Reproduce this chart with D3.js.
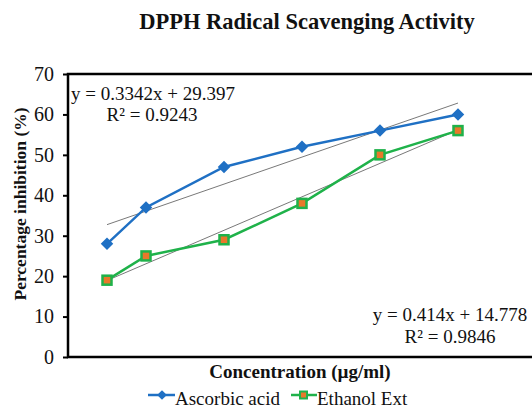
<!DOCTYPE html>
<html>
<head>
<meta charset="utf-8">
<script src="https://cdn.jsdelivr.net/npm/d3@7"></script>
<style>
  body { margin: 0; background: #fff; }
  svg text { font-family: "Liberation Serif", "Times New Roman", serif; fill: #111; }
</style>
</head>
<body>
<div id="chart"></div>
<script>
// data
var concentrations = [10, 20, 40, 60, 80, 100];
var ascorbicAcid = [28, 37, 47, 52, 56, 60];
var ethanolExt = [19, 25, 29, 38, 50, 56];
var yTicks = [0, 10, 20, 30, 40, 50, 60, 70];
var trendAscorbic = {slope: 0.3342, intercept: 29.397, eq: "y = 0.3342x + 29.397", r2: "R\u00B2 = 0.9243"};
var trendEthanol = {slope: 0.414, intercept: 14.778, eq: "y = 0.414x + 14.778", r2: "R\u00B2 = 0.9846"};

var width = 532, height = 412;
var margin = {top: 74, right: -4, bottom: 55, left: 68};

var svg = d3.select("#chart").append("svg")
    .attr("width", width)
    .attr("height", height);

var x = d3.scaleLinear()
    .domain([0, 120])
    .range([margin.left, width - margin.right]);

var y = d3.scaleLinear()
    .domain([0, 70])
    .range([height - margin.bottom, margin.top]);

// title
svg.append("text")
    .attr("x", 307)
    .attr("y", 29)
    .attr("text-anchor", "middle")
    .attr("font-size", 22.5)
    .attr("font-weight", "bold")
    .text("DPPH Radical Scavenging Activity");

// y axis
var yAxis = d3.axisLeft(y)
    .tickValues(yTicks)
    .tickSize(5)
    .tickPadding(9);

var gy = svg.append("g")
    .attr("transform", "translate(" + margin.left + ",0)")
    .call(yAxis);
gy.select(".domain").remove();
gy.selectAll(".tick line").attr("stroke", "#000").attr("stroke-width", 2);
gy.selectAll(".tick text")
    .attr("font-size", 20)
    .attr("font-family", "Liberation Serif, serif")
    .attr("fill", "#222");

// frame: top, left, bottom
svg.append("path")
    .attr("d", "M" + (width + 5) + "," + y(70) + "H" + margin.left + "V" + y(0) + "H" + (width + 5))
    .attr("fill", "none")
    .attr("stroke", "#000")
    .attr("stroke-width", 2.5);

// axis titles
svg.append("text")
    .attr("transform", "translate(26,204) rotate(-90)")
    .attr("text-anchor", "middle")
    .attr("font-size", 17.5)
    .attr("font-weight", "bold")
    .text("Percentage inhibition (%)");

svg.append("text")
    .attr("x", 300)
    .attr("y", 378)
    .attr("text-anchor", "middle")
    .attr("font-size", 19)
    .attr("font-weight", "bold")
    .text("Concentration (\u00B5g/ml)");

// trendlines
function trendline(t) {
    var x0 = d3.min(concentrations), x1 = d3.max(concentrations);
    svg.append("line")
        .attr("x1", x(x0)).attr("y1", y(t.slope * x0 + t.intercept))
        .attr("x2", x(x1)).attr("y2", y(t.slope * x1 + t.intercept))
        .attr("stroke", "#555")
        .attr("stroke-width", 0.8);
}
trendline(trendAscorbic);
trendline(trendEthanol);

var line = d3.line()
    .x(function(d, i) { return x(concentrations[i]); })
    .y(function(d) { return y(d); });

var blue = "#1f70c4", green = "#1fb24a", orange = "#e8782a";

// series lines
svg.append("path")
    .datum(ascorbicAcid)
    .attr("d", line)
    .attr("fill", "none")
    .attr("stroke", blue)
    .attr("stroke-width", 2.5);

svg.append("path")
    .datum(ethanolExt)
    .attr("d", line)
    .attr("fill", "none")
    .attr("stroke", green)
    .attr("stroke-width", 2.5);

// markers
var diamond = d3.symbol().type(d3.symbolDiamond2).size(100);
svg.selectAll(".asc")
    .data(ascorbicAcid)
    .enter().append("path")
    .attr("class", "asc")
    .attr("d", diamond)
    .attr("transform", function(d, i) { return "translate(" + x(concentrations[i]) + "," + y(d) + ")"; })
    .attr("fill", blue);

svg.selectAll(".eth")
    .data(ethanolExt)
    .enter().append("rect")
    .attr("class", "eth")
    .attr("x", function(d, i) { return x(concentrations[i]) - 4.5; })
    .attr("y", function(d) { return y(d) - 4.5; })
    .attr("width", 9)
    .attr("height", 9)
    .attr("fill", orange)
    .attr("stroke", green)
    .attr("stroke-width", 2.5);

// equations
function eqText(t, cx, yy) {
    svg.append("text")
        .attr("x", cx).attr("y", yy)
        .attr("text-anchor", "middle")
        .attr("font-size", 19)
        .text(t);
}
eqText(trendAscorbic.eq, 153, 100);
eqText(trendAscorbic.r2, 152, 121);
eqText(trendEthanol.eq, 450, 321);
eqText(trendEthanol.r2, 450, 343);

// legend
var legend = svg.append("g").attr("transform", "translate(0,405)");
legend.append("line").attr("x1", 148).attr("x2", 175).attr("y1", -10).attr("y2", -10)
    .attr("stroke", blue).attr("stroke-width", 2.5);
legend.append("path").attr("d", d3.symbol().type(d3.symbolDiamond2).size(60))
    .attr("transform", "translate(162,-10)").attr("fill", blue);
legend.append("text").attr("x", 175).attr("y", 0).attr("font-size", 19).text("Ascorbic acid");

legend.append("line").attr("x1", 291).attr("x2", 317).attr("y1", -10).attr("y2", -10)
    .attr("stroke", green).attr("stroke-width", 2.5);
legend.append("rect").attr("x", 300).attr("y", -13.5).attr("width", 7).attr("height", 7)
    .attr("fill", orange).attr("stroke", green).attr("stroke-width", 2);
legend.append("text").attr("x", 317).attr("y", 0).attr("font-size", 19).text("Ethanol Ext");
</script>
</body>
</html>
